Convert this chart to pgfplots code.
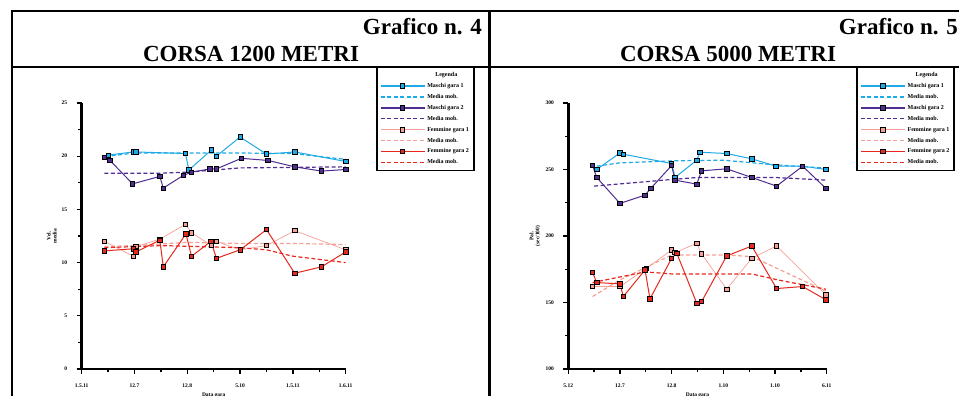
\documentclass[border=0pt]{standalone}
\usepackage{pgfplots}
\pgfplotsset{compat=1.18}
\usepackage{fontspec}
\setmainfont{Liberation Serif}
\definecolor{cya}{RGB}{30,170,230}
\definecolor{pur}{RGB}{80,45,145}
\definecolor{pnk}{RGB}{245,160,150}
\definecolor{rd}{RGB}{230,40,30}
\pgfplotsset{
 myax/.style={scale only axis, width=264pt, height=266pt,
  axis x line*=bottom, axis y line*=left,
  axis line style={line width=2.6pt,-},
  every outer x axis line/.append style={line width=2.6pt},
  every outer y axis line/.append style={line width=2.6pt},
  tick align=outside, major tick length=5pt, minor tick length=3.5pt,
  every tick/.style={black,line width=1.3pt},
  tick label style={font=\fontsize{5.5}{6}\selectfont\bfseries},
  yticklabel style={xshift=-6pt},
  xticklabel style={yshift=-6pt},
  label style={font=\fontsize{5.5}{6}\selectfont\bfseries, align=center},
  ylabel style={yshift=-2pt},
  xlabel style={yshift=1pt},
  xmin=0,xmax=10, xtick={0,2,...,10}, minor xtick={1,3,5,7,9},
  clip=false,
  legend cell align=left,
  legend style={font=\fontsize{6}{6}\selectfont\bfseries, draw=black, line width=1.6pt, anchor=north west, row sep=1.3pt, inner sep=3pt, fill=white},
  legend image code/.code={\draw[line width=1.4pt, mark repeat=2,mark phase=2] plot coordinates {(0pt,0pt) (22pt,0pt) (44pt,0pt)};},
 },
 sol/.style={#1, line width=1pt, mark=square*, mark size=2.2pt, mark options={solid, draw=black, fill=#1, line width=0.8pt}},
 das/.style={#1, line width=1.2pt, dash pattern=on 4pt off 2.5pt, mark=none},
}
\begin{document}
\begin{tikzpicture}[x=1pt,y=1pt]
\useasboundingbox (0,0) rectangle (959,396);
\clip (0,0) rectangle (959,396);
\fill[white] (0,0) rectangle (959,396);
% frames
\draw[line width=2.5pt] (12,385) -- (965,385);
\draw[line width=2.5pt] (12,329) -- (965,329);
\draw[line width=2.5pt] (12,386) -- (12,-5);
\draw[line width=3pt] (489,386) -- (489,-5);
% titles
\node[anchor=base east, inner sep=0pt, font=\fontsize{23}{23}\selectfont\bfseries] at (482,361) {Grafico n. 4};
\node[anchor=base, inner sep=0pt, font=\fontsize{23}{23}\selectfont\bfseries] at (251,334) {CORSA 1200 METRI};
\node[anchor=base east, inner sep=0pt, font=\fontsize{23}{23}\selectfont\bfseries] at (958,361) {Grafico n. 5};
\node[anchor=base, inner sep=0pt, font=\fontsize{23}{23}\selectfont\bfseries] at (728,334) {CORSA 5000 METRI};

\begin{axis}[myax, at={(81.7pt,27pt)}, anchor=south west,
  ymin=0, ymax=25, ytick={0,5,...,25}, minor ytick={2.5,7.5,...,22.5},
  yticklabels={0,5,10,15,20,25},
  xticklabels={1.5.11,12.7,12.8,5.10,1.5.11,1.6.11},
  xlabel={Data gara}, ylabel={Vel.\\media},
  legend style={at={(1.115,1.138)}},
  ]
\addlegendimage{empty legend}
\addplot[sol=cya] coordinates {(0.86,19.9)(1.0,20.1)(1.95,20.4)(2.05,20.4)(3.93,20.25)(4.06,18.7)(4.92,20.6)(5.1,20.0)(6.0,21.8)(7.0,20.2)(8.07,20.4)(10,19.5)};
\addplot[das=cya] coordinates {(0.9,19.9)(1.0,20.0)(2.0,20.3)(4.0,20.3)(6.0,20.3)(8.0,20.25)(10,19.7)};
\addplot[sol=pur] coordinates {(0.86,19.9)(1.07,19.6)(1.93,17.4)(2.96,18.1)(3.09,17.0)(3.85,18.2)(4.16,18.5)(4.85,18.8)(5.1,18.8)(6.05,19.8)(7.06,19.6)(8.07,19.0)(9.08,18.6)(10,18.75)};
\addplot[das=pur] coordinates {(0.86,18.4)(3.0,18.4)(4.0,18.5)(5.0,18.7)(6.0,18.9)(10,19.0)};
\addplot[sol=pnk, line width=0.7pt] coordinates {(0.86,12.0)(1.95,10.6)(2.05,11.5)(2.96,12.2)(3.93,13.6)(4.16,12.8)(4.92,11.6)(5.1,12.0)(6.0,11.2)(7.0,11.6)(8.07,13.0)(10,11.2)};
\addplot[das=pnk] coordinates {(0.86,11.5)(2.0,11.6)(4.0,11.9)(6.0,11.8)(8.0,11.8)(10,11.7)};
\addplot[sol=rd] coordinates {(0.86,11.1)(1.95,11.3)(2.05,11.0)(2.96,12.1)(3.09,9.6)(3.95,12.7)(4.16,10.6)(4.9,12.0)(5.1,10.4)(6.0,11.2)(7.0,13.1)(8.07,9.0)(9.08,9.6)(10,11.0)};
\addplot[das=rd] coordinates {(0.86,11.4)(3.0,11.6)(6.0,11.4)(7.0,11.2)(8.0,10.6)(10,10.0)};
\legend{\hspace{8pt}Legenda,Maschi gara 1,Media mob.,Maschi gara 2,Media mob.,Femmine gara 1,Media mob.,Femmine gara 2,Media mob.}
\end{axis}

\begin{axis}[myax, width=258.4pt, at={(568.3pt,27pt)}, anchor=south west,
  ymin=100, ymax=300, ytick={100,150,...,300}, minor ytick={125,175,225,275},
  yticklabels={100,150,200,250,300},
  xticklabels={5.12,12.7,12.8,1.10,1.10,6.11},
  xlabel={Data gara}, ylabel={Pal.\\(sec/100)},
  legend style={at={(1.115,1.138)}},
  ]
\addlegendimage{empty legend}
\addplot[sol=cya] coordinates {(0.94,253)(1.1,250)(2.0,262.5)(2.13,261.5)(4.0,254.5)(4.13,244)(4.97,257)(5.1,263)(6.13,262)(7.1,258)(8.04,252.5)(9.07,252.5)(9.97,250)};
\addplot[das=cya] coordinates {(1.1,252.5)(2.0,255)(4.0,256.5)(6.0,257)(8.0,253.5)(10,251)};
\addplot[sol=pur] coordinates {(0.94,253)(1.1,244)(2.0,224.5)(2.97,230.75)(3.19,235.75)(4.0,253)(4.13,242)(4.97,239)(5.16,249)(6.13,250.5)(7.1,244)(8.06,237.5)(9.07,252.5)(9.97,235.75)};
\addplot[das=pur] coordinates {(1.0,237.5)(4.0,242.5)(5.0,244)(8.0,244)(10,242)};
\addplot[sol=pnk, line width=0.7pt] coordinates {(0.94,162)(2.0,162)(3.03,175.75)(4.0,189.5)(4.13,187.5)(4.97,194.5)(5.16,186.5)(6.13,160)(7.1,183.25)(8.06,192.5)(9.97,155.75)};
\addplot[das=pnk] coordinates {(0.94,154.5)(2.0,167)(4.0,185.75)(6.13,185.75)(7.1,184.5)(10,158.25)};
\addplot[sol=rd] coordinates {(0.94,172.5)(1.1,165)(2.0,164)(2.13,154.5)(2.97,174.5)(3.16,152.75)(4.0,183.25)(4.2,187)(4.97,149.5)(5.16,150.75)(6.13,185)(7.1,192.5)(8.06,160.5)(9.07,162)(9.97,152)};
\addplot[das=rd] coordinates {(0.94,165)(2.97,173)(4.0,171.5)(7.1,171.5)(8.1,167)(9.97,160)};
\legend{\hspace{8pt}Legenda,Maschi gara 1,Media mob.,Maschi gara 2,Media mob.,Femmine gara 1,Media mob.,Femmine gara 2,Media mob.}
\end{axis}
\end{tikzpicture}
\end{document}
